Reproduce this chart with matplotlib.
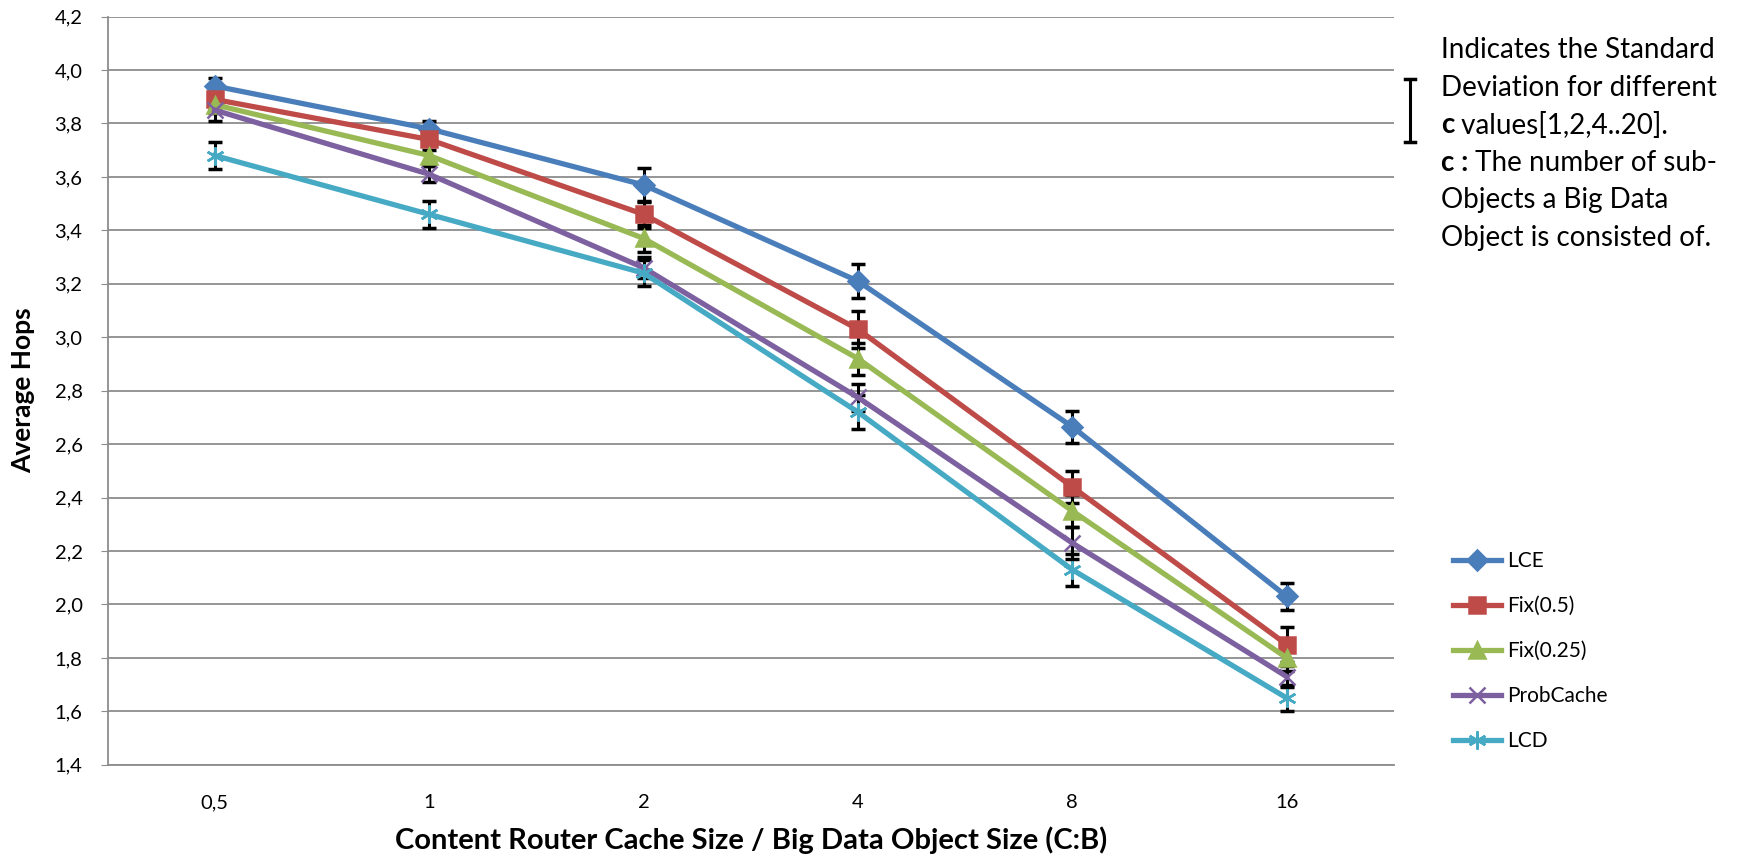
import matplotlib.pyplot as plt
import matplotlib.lines as mlines

# Data
categories = ['0,5', '1', '2', '4', '8', '16']
series_names = ['LCE', 'Fix(0.5)', 'Fix(0.25)', 'ProbCache', 'LCD']
lce = [3.94, 3.78, 3.57, 3.21, 2.665, 2.03]
fix05 = [3.89, 3.74, 3.46, 3.03, 2.44, 1.85]
fix025 = [3.87, 3.68, 3.37, 2.92, 2.35, 1.80]
probcache = [3.85, 3.61, 3.26, 2.775, 2.23, 1.73]
lcd = [3.68, 3.46, 3.24, 2.72, 2.13, 1.65]

lce_err = [0.03, 0.03, 0.065, 0.065, 0.06, 0.05]
fix05_err = [0.04, 0.04, 0.05, 0.07, 0.06, 0.065]
fix025_err = [0.03, 0.04, 0.05, 0.06, 0.06, 0.05]
probcache_err = [0.04, 0.03, 0.04, 0.05, 0.06, 0.04]
lcd_err = [0.05, 0.05, 0.05, 0.065, 0.06, 0.05]

yticks = [1.4, 1.6, 1.8, 2.0, 2.2, 2.4, 2.6, 2.8, 3.0, 3.2, 3.4, 3.6, 3.8, 4.0, 4.2]

colors = ['#4A7EBB', '#BE4B48', '#98B954', '#7D60A0', '#46AAC5']
markers = ['D', 's', '^', 'x', (6, 2, 0)]
msizes = [10, 12, 11, 11, 13]

plt.rcParams['font.family'] = ['Lato', 'DejaVu Sans']

fig = plt.figure(figsize=(17.38, 8.59), dpi=100)
ax = fig.add_axes([0.0619, 0.1097, 0.7401, 0.871])

x = list(range(len(categories)))
values = [lce, fix05, fix025, probcache, lcd]
errs = [lce_err, fix05_err, fix025_err, probcache_err, lcd_err]

handles = []
for name, vals, err, c, m, ms in zip(series_names, values, errs, colors, markers, msizes):
    ax.errorbar(x, vals, yerr=err, fmt='none', ecolor='black', elinewidth=2.2,
                capsize=5, capthick=2.5, zorder=2)
    h, = ax.plot(x, vals, color=c, lw=3.8, marker=m, markersize=ms,
                 markeredgecolor=c, markerfacecolor=c, markeredgewidth=1.8,
                 label=name, zorder=3)
    handles.append(h)

ax.set_xlim(-0.5, len(categories) - 0.5)
ax.set_ylim(1.4, 4.2)
ax.set_xticks(x)
ax.set_xticklabels(categories)
ax.set_yticks(yticks)
ax.set_yticklabels([f'{v:.1f}'.replace('.', ',') for v in yticks])
ax.yaxis.grid(True, color='#8C8C8C', lw=1.3)
ax.set_axisbelow(True)
for s in ['top', 'right']:
    ax.spines[s].set_visible(False)
for s in ['left', 'bottom']:
    ax.spines[s].set_color('#8C8C8C')
    ax.spines[s].set_linewidth(1.3)
ax.tick_params(axis='y', length=5, color='#8C8C8C', pad=13, labelsize=14.5)
ax.tick_params(axis='x', length=0, pad=21, labelsize=14.5)

ax.set_ylabel('Average Hops', fontsize=19, fontweight='bold', labelpad=14)
ax.set_xlabel('Content Router Cache Size / Big Data Object Size (C:B)',
              fontsize=21, fontweight='bold', labelpad=11)

fig.legend(handles=handles, loc='upper left', bbox_to_anchor=(0.831, 0.368),
           frameon=False, fontsize=15, handlelength=2.3, labelspacing=1.2,
           handletextpad=0.3, borderaxespad=0)

# Standard deviation note on the right
fig.add_artist(mlines.Line2D([0.8113, 0.8113], [0.835, 0.908], color='black', lw=2.2))
fig.add_artist(mlines.Line2D([0.8083, 0.8143], [0.908, 0.908], color='black', lw=2.5))
fig.add_artist(mlines.Line2D([0.8083, 0.8143], [0.835, 0.835], color='black', lw=2.5))

tx = 0.829
fs = 20
line_y = [0.942, 0.898, 0.854, 0.810, 0.767, 0.723]
fig.text(tx, line_y[0], 'Indicates the Standard', fontsize=fs, va='center')
fig.text(tx, line_y[1], 'Deviation for different', fontsize=fs, va='center')
b1 = fig.text(tx, line_y[2], 'c', fontsize=fs, va='center', fontweight='bold')
b2 = fig.text(tx, line_y[3], 'c :', fontsize=fs, va='center', fontweight='bold')
fig.text(tx, line_y[4], 'Objects a Big Data', fontsize=fs, va='center')
fig.text(tx, line_y[5], 'Object is consisted of.', fontsize=fs, va='center')
ax.annotate(' values[1,2,4..20].', xy=(1, 0.5), xycoords=b1, va='center',
            fontsize=fs, annotation_clip=False)
ax.annotate(' The number of sub-', xy=(1, 0.5), xycoords=b2, va='center',
            fontsize=fs, annotation_clip=False)

fig.savefig('out.png', dpi=100)
